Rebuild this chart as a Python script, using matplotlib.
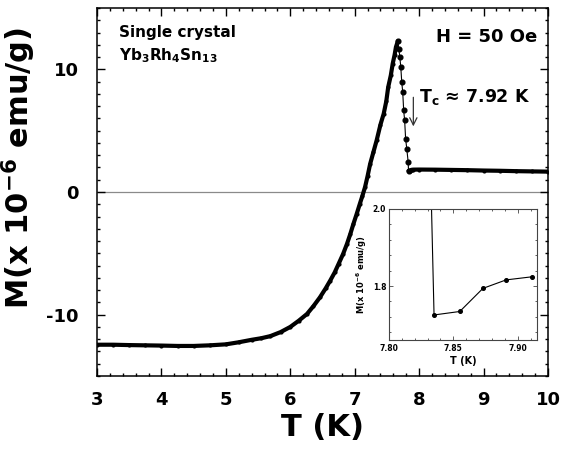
import matplotlib
matplotlib.use("Agg")
import matplotlib.pyplot as plt
from matplotlib.ticker import MultipleLocator, AutoMinorLocator

plt.rcParams['font.family'] = ['DejaVu Sans']
plt.rcParams['font.weight'] = 'bold'
plt.rcParams['mathtext.fontset'] = 'dejavusans'
plt.rcParams['mathtext.default'] = 'bf'

# ---- data ----
# superconducting branch (3 K up to the peak)
T_low = [3.00, 3.25, 3.50, 3.75, 4.00, 4.25, 4.50, 4.75, 5.00, 5.20, 5.40,
         5.55, 5.69, 5.85, 6.00, 6.13, 6.26, 6.36, 6.46, 6.55, 6.62, 6.69,
         6.75, 6.82, 6.88, 6.93, 6.98, 7.03, 7.08, 7.12, 7.16, 7.20, 7.24,
         7.29, 7.34, 7.40, 7.45, 7.49, 7.52, 7.56, 7.59, 7.62, 7.64, 7.67]
M_low = [-12.45, -12.45, -12.48, -12.50, -12.52, -12.55, -12.55, -12.50,
         -12.42, -12.25, -12.05, -11.92, -11.75, -11.42, -11.00, -10.50,
         -9.94, -9.30, -8.59, -7.85, -7.22, -6.55, -5.86, -5.05, -4.23,
         -3.45, -2.60, -1.80, -0.96, -0.30, 0.39, 1.30, 2.30, 3.25, 4.20,
         5.50, 6.38, 7.40, 8.56, 9.50, 10.47, 11.20, 11.82, 12.30]
# sharp drop after the peak
T_drop = [7.67, 7.685, 7.700, 7.715, 7.730, 7.745, 7.760, 7.775, 7.790,
          7.808, 7.830, 7.835]
M_drop = [12.30, 11.69, 11.00, 10.20, 8.96, 8.15, 6.65, 5.84, 4.34, 3.53,
          2.43, 1.725]
# normal state
T_norm = [7.835, 7.855, 7.873, 7.891, 7.911, 8.00, 8.25, 8.50, 8.75, 9.00,
          9.25, 9.50, 9.75, 10.00]
M_norm = [1.725, 1.734, 1.794, 1.816, 1.824, 1.83, 1.82, 1.80, 1.78, 1.75,
          1.73, 1.70, 1.68, 1.66]
# inset points
T_in = [7.830, 7.835, 7.855, 7.873, 7.891, 7.911]
M_in = [2.43, 1.725, 1.734, 1.794, 1.816, 1.824]

x_ticks = [3, 4, 5, 6, 7, 8, 9, 10]
y_ticks = [-10, 0, 10]
in_x_ticks = [7.80, 7.85, 7.90]
in_y_ticks = [1.8, 2.0]

fig = plt.figure(figsize=(5.63, 4.51), dpi=100)
ax = fig.add_axes([97/563, (451-376)/451, 451/563, 368/451])

ax.axhline(0, color='#8a8a8a', lw=0.9, zorder=1)
ax.plot(T_low, M_low, '-', color='black', lw=3.0, marker='o', ms=3.0,
        mew=0, solid_capstyle='round', solid_joinstyle='round', zorder=3)
ax.plot(T_drop, M_drop, '-', color='black', lw=0.8, marker='o', ms=3.4,
        zorder=3)
ax.plot(T_norm, M_norm, '-', color='black', lw=3.0, marker='o', ms=3.0,
        mew=0, solid_capstyle='round', solid_joinstyle='round', zorder=3)

ax.set_xlim(3, 10)
ax.set_ylim(-15, 15)
ax.set_xticks(x_ticks)
ax.set_yticks(y_ticks)
ax.set_xticklabels([str(v) for v in x_ticks])
ax.set_yticklabels([str(v) for v in y_ticks])
ax.xaxis.set_minor_locator(MultipleLocator(0.2))
ax.yaxis.set_minor_locator(MultipleLocator(1))
ax.tick_params(which='both', direction='in', top=True, right=True,
               width=1.0, color='black')
ax.tick_params(which='major', length=5.5)
ax.tick_params(which='minor', length=2.5)
ax.tick_params(axis='x', which='major', pad=11, labelsize=13)
ax.tick_params(axis='y', which='major', pad=13, labelsize=13)
for lab in ax.get_xticklabels() + ax.get_yticklabels():
    lab.set_fontweight('bold')
for s in ax.spines.values():
    s.set_linewidth(1.1)

fig.text(322.5/563, 15/451, 'T (K)', fontsize=22, fontweight='bold',
         ha='center', va='baseline')
fig.text(19/563, (451-167.5)/451, r'M(x 10$^{\mathbf{-6}}$ emu/g)',
         fontsize=22, fontweight='bold', rotation=90, ha='center',
         va='center')

ax.text(3.34, 12.64, 'Single crystal', fontsize=11, fontweight='bold',
        ha='left', va='baseline')
ax.text(3.34, 10.75, r'Yb$_{\mathbf{3}}$Rh$_{\mathbf{4}}$Sn$_{\mathbf{13}}$',
        fontsize=11, fontweight='bold', ha='left', va='baseline')
ax.text(9.83, 12.23, 'H = 50 Oe', fontsize=13, fontweight='bold',
        ha='right', va='baseline')
ax.text(8.0, 7.33, r'T$_{\mathbf{c}}$ ≈ 7.92 K', fontsize=12.5,
        fontweight='bold', ha='left', va='baseline')
ax.annotate('', xy=(7.91, 5.35), xytext=(7.91, 7.72),
            arrowprops=dict(arrowstyle='->', color='#333333', lw=0.9,
                            mutation_scale=13, shrinkA=0, shrinkB=0))

# inset
axi = fig.add_axes([389/563, (451-340)/451, 148/563, 131/451])
axi.plot(T_in, M_in, '-', color='black', lw=0.8, marker='o', ms=2.6)
axi.set_xlim(7.80, 7.915)
axi.set_ylim(1.66, 2.0)
axi.set_xticks(in_x_ticks)
axi.set_yticks(in_y_ticks)
axi.set_xticklabels(['7.80', '7.85', '7.90'])
axi.set_yticklabels(['1.8', '2.0'])
axi.xaxis.set_minor_locator(MultipleLocator(0.01))
axi.yaxis.set_minor_locator(AutoMinorLocator(5))
axi.tick_params(which='both', direction='in', top=True, right=True,
                width=0.6, color='#444444')
axi.tick_params(which='major', length=3)
axi.tick_params(which='minor', length=1.5)
axi.tick_params(axis='x', which='major', pad=3, labelsize=5.5)
axi.tick_params(axis='y', which='major', pad=2, labelsize=5.5)
for lab in axi.get_xticklabels() + axi.get_yticklabels():
    lab.set_fontweight('bold')
for s in axi.spines.values():
    s.set_linewidth(0.8)
    s.set_color('#444444')
axi.set_xlabel('T (K)', fontsize=7, fontweight='bold', labelpad=2)
axi.set_ylabel(r'M(x 10$^{\mathbf{-6}}$ emu/g)', fontsize=6,
               fontweight='bold', labelpad=3)

fig.savefig('out.png', dpi=100)
